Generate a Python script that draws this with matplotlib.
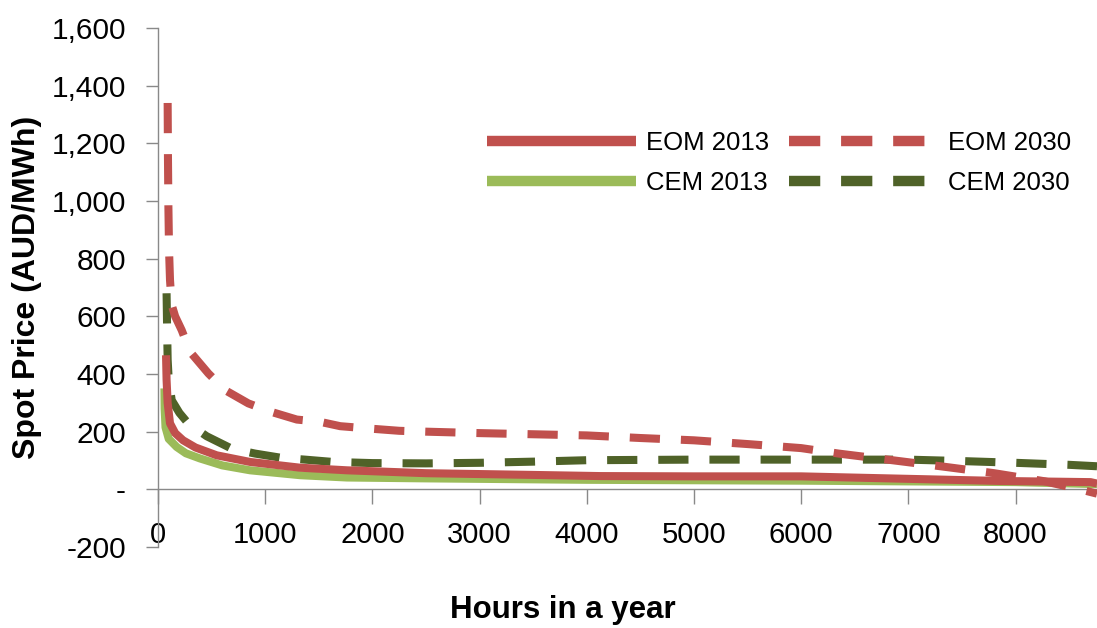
import matplotlib
matplotlib.use("Agg")
import matplotlib.pyplot as plt
from matplotlib import font_manager
from matplotlib.lines import Line2D
from matplotlib.ticker import FuncFormatter, FixedLocator

# ---------------- data ----------------
eom2013_hours = [75, 80, 90, 112, 160, 234, 350, 548, 859, 1326, 1762, 2500, 3500,
                 4127, 5000, 6000, 6928, 7862, 8700, 8760]
eom2013_price = [465, 380, 300, 229, 195, 170, 145, 118, 95, 75, 66, 56, 50,
                 46, 45, 45, 37, 29, 25, 20]

cem2013_hours = [60, 62, 70, 100, 174, 260, 392, 600, 859, 1326, 1762, 2500, 4000,
                 6000, 8000, 8760]
cem2013_price = [350, 280, 215, 175, 147, 125, 107, 83, 66, 49, 41, 38, 33,
                 30, 25, 18]

eom2030_hours = [90, 93, 97, 103, 112, 128, 160, 221, 299, 470, 626, 843, 1062, 1295,
                 1513, 1700, 2000, 2250, 2500, 3000, 3500, 4000, 4500, 5000, 5500,
                 6000, 6350, 6850, 7300, 7800, 8270, 8600, 8760]
eom2030_price = [1340, 1150, 980, 830, 726, 639, 600, 552, 477, 402, 344, 298, 268, 242,
                 234, 219, 210, 203, 200, 195, 191, 187, 178, 170, 157,
                 143, 124, 101, 80, 56, 28, 0, -15]

cem2030_hours = [80, 85, 90, 100, 128, 200, 283, 455, 688, 906, 1155, 1373, 1631, 2000,
                 2500, 3000, 3500, 4000, 5000, 6000, 7000, 7500, 8000, 8500, 8760]
cem2030_price = [680, 560, 450, 380, 309, 265, 228, 184, 141, 124, 109, 103, 95, 91,
                 90, 92, 96, 101, 103, 103, 103, 98, 92, 85, 80]

x_ticks = [0, 1000, 2000, 3000, 4000, 5000, 6000, 7000, 8000]
y_ticks = [-200, 0, 200, 400, 600, 800, 1000, 1200, 1400, 1600]

# ---------------- styling ----------------
RED = "#C0504D"
LGREEN = "#9BBB59"
DGREEN = "#4F6228"
AXIS = "#898989"

names = {f.name for f in font_manager.fontManager.ttflist}
BASE = "Liberation Sans" if "Liberation Sans" in names else "DejaVu Sans"
NARROW = "Liberation Sans Narrow" if "Liberation Sans Narrow" in names else BASE
plt.rcParams["font.family"] = [BASE, "DejaVu Sans"]

fig = plt.figure(figsize=(10.97, 6.28), dpi=100)
ax = fig.add_axes([158 / 1097, 1 - 547 / 628, (1097 - 158) / 1097, (547 - 28) / 628])

LW = 5.8
DASH = (3.75, 2.6)

ax.plot(cem2030_hours, cem2030_price, color=DGREEN, lw=LW, dashes=DASH,
        dash_capstyle="butt", zorder=2)
ax.plot(cem2013_hours, cem2013_price, color=LGREEN, lw=LW, solid_capstyle="butt",
        zorder=3)
ax.plot(eom2013_hours, eom2013_price, color=RED, lw=LW, solid_capstyle="butt",
        zorder=4)
ax.plot(eom2030_hours, eom2030_price, color=RED, lw=LW, dashes=DASH,
        dash_capstyle="butt", zorder=5)

ax.set_xlim(0, 8760)
ax.set_ylim(-200, 1600)

for s in ["top", "right"]:
    ax.spines[s].set_visible(False)
ax.spines["left"].set_color(AXIS)
ax.spines["left"].set_linewidth(1.0)
ax.spines["bottom"].set_color(AXIS)
ax.spines["bottom"].set_linewidth(1.0)
ax.spines["bottom"].set_position(("data", 0))

ax.xaxis.set_major_locator(FixedLocator(x_ticks))
ax.yaxis.set_major_locator(FixedLocator(y_ticks))


def yfmt(v, pos):
    if abs(v) < 1e-9:
        return "-"
    return f"{int(v):,}"


ax.yaxis.set_major_formatter(FuncFormatter(yfmt))
ax.xaxis.set_major_formatter(FuncFormatter(lambda v, p: f"{int(v)}"))

ax.tick_params(axis="y", direction="out", length=9, width=1.0, color=AXIS,
               pad=14, labelsize=21.5, labelcolor="black")
ax.tick_params(axis="x", direction="out", length=11, width=1.0, color=AXIS,
               pad=12, labelsize=21, labelcolor="black")
for lab in ax.get_xticklabels():
    lab.set_fontfamily([NARROW, "DejaVu Sans"])

fig.text(27 / 1097, 1 - 287 / 628, "Spot Price (AUD/MWh)", rotation=90,
         ha="center", va="center", fontsize=23, fontweight="bold")
fig.text(563 / 1097, 1 - 610 / 628, "Hours in a year", ha="center", va="center",
         fontsize=22.5, fontweight="bold")

LLW = 7.5
LDASH = (3.0, 2.0)
handles = [
    Line2D([], [], color=RED, lw=LLW, solid_capstyle="butt"),
    Line2D([], [], color=LGREEN, lw=LLW, solid_capstyle="butt"),
    Line2D([], [], color=RED, lw=LLW, dashes=LDASH, dash_capstyle="butt"),
    Line2D([], [], color=DGREEN, lw=LLW, dashes=LDASH, dash_capstyle="butt"),
]
labels = ["EOM 2013", "CEM 2013", "EOM 2030", "CEM 2030"]
leg = fig.legend(handles, labels, ncol=2,
                 loc="upper left", bbox_to_anchor=(487 / 1097, 1 - 131 / 628),
                 frameon=False, fontsize=18.5, handlelength=5.8, handletextpad=0.4,
                 columnspacing=0.75, labelspacing=0.62, borderpad=0, borderaxespad=0)

fig.savefig("out.png", dpi=100)
